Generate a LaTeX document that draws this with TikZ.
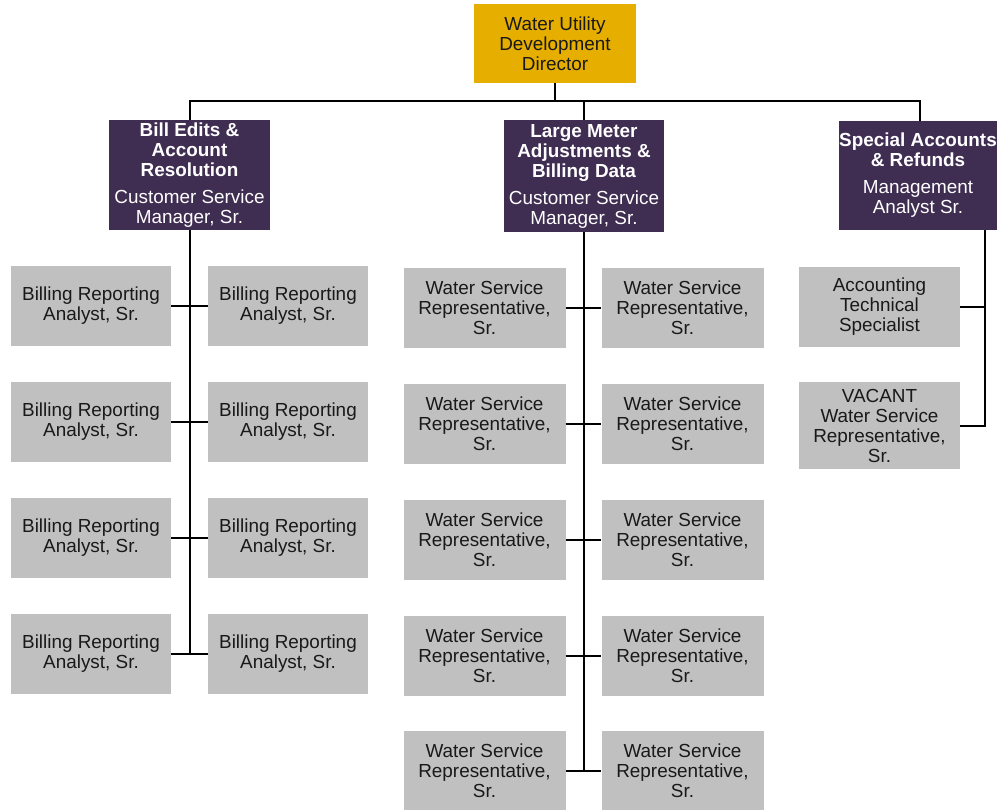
\documentclass[tikz,border=0pt]{standalone}
\usepackage{fontspec}
\setmainfont{Liberation Sans}
\definecolor{gold}{RGB}{230,175,0}
\definecolor{plum}{RGB}{63,45,82}
\definecolor{boxgray}{RGB}{192,192,192}
\definecolor{ink}{RGB}{25,25,25}
\begin{document}
\begin{tikzpicture}[x=1pt,y=-1pt,
  every node/.style={font=\fontsize{18.9}{20}\selectfont, align=center, inner sep=0pt},
  head/.style={fill=gold, text=ink, minimum width=162pt, minimum height=79pt},
  mgr/.style={fill=plum, text=white, minimum width=161pt, minimum height=110pt},
  staff/.style={fill=boxgray, text=ink, minimum width=161pt, minimum height=80pt},
  link/.style={draw=black, line width=2pt}]
\useasboundingbox (0,0) rectangle (1003,809);

% director
\node[head] (dir) at (555,43.5) {Water Utility\\Development\\Director};

% managers
\node[mgr] (bill) at (189.5,175) {\bfseries Bill Edits \&\\\bfseries Account\\\bfseries Resolution\\[7pt]Customer Service\\Manager, Sr.};
\node[mgr, minimum width=160pt, minimum height=112pt] (meter) at (584,176) {\bfseries Large Meter\\\bfseries Adjustments \&\\\bfseries Billing Data\\[7pt]Customer Service\\Manager, Sr.};
\node[mgr, minimum width=158pt, minimum height=109pt] (spec) at (918,175.5) {\bfseries Special Accounts\\\bfseries \& Refunds\\[7pt]Management\\Analyst Sr.};

% billing analysts
\foreach \i/\y in {1/306,2/422,3/538,4/654}{
  \node[staff, minimum width=160pt] (bl\i) at (91,\y) {Billing Reporting\\Analyst, Sr.};
  \node[staff, minimum width=160pt] (br\i) at (288,\y) {Billing Reporting\\Analyst, Sr.};
}

% service representatives
\foreach \i/\y in {1/308,2/424,3/540,4/656,5/771}{
  \node[staff, minimum width=162pt] (ml\i) at (484.5,\y) {Water Service\\Representative,\\Sr.};
  \node[staff, minimum width=162pt] (mr\i) at (682.5,\y) {Water Service\\Representative,\\Sr.};
}

% special accounts staff
\node[staff] (acc) at (879.5,306.5) {Accounting\\Technical\\Specialist};
\node[staff, minimum height=87pt] (vac) at (879.5,425.5) {VACANT\\Water Service\\Representative,\\Sr.};

% top-level bus
\coordinate (bus) at (555,101);
\draw[link] (dir.south) -- (bus);
\draw[link] (bill.north) |- (bus) -| (meter.north);
\draw[link] (bus) -| ([xshift=2pt]spec.north);

% left branch
\draw[link] (bill.south) -- (bill.south |- bl4.east);
\foreach \i in {1,...,4}{\draw[link] (bl\i.east) -- (br\i.west);}

% middle branch
\draw[link] (meter.south) -- (meter.south |- ml5.east);
\foreach \i in {1,...,5}{\draw[link] (ml\i.east) -- (mr\i.west);}

% right branch
\coordinate (sx) at ([xshift=-12pt]spec.south east);
\draw[link] (sx) |- (vac.east);
\draw[link] (acc.east) -- (acc.east -| sx);
\end{tikzpicture}
\end{document}
